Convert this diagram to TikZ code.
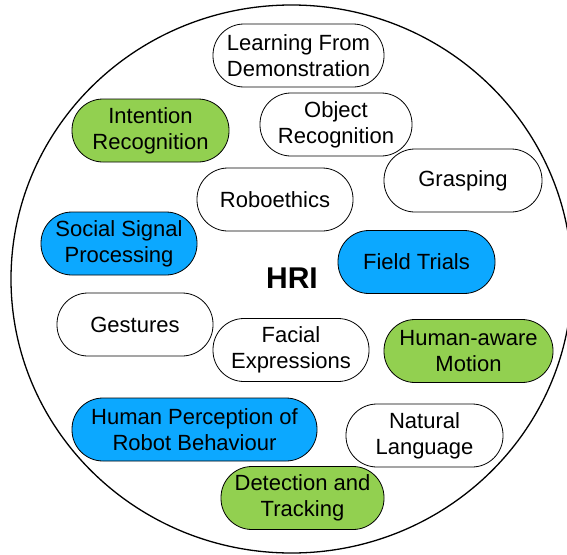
\documentclass[tikz,border=0pt]{standalone}
\usepackage{fontspec}
\setmainfont{Liberation Sans}
\definecolor{tgreen}{RGB}{146,208,80}
\definecolor{tblue}{RGB}{12,168,255}
\begin{document}
\begin{tikzpicture}[x=1pt,y=-1pt,
  topic/.style={draw=black, line width=0.8pt, rounded corners=31pt,
    minimum height=63pt, align=center, inner sep=0pt,
    font=\fontsize{22}{26}\selectfont, fill=white},
  greentopic/.style={topic, fill=tgreen},
  bluetopic/.style={topic, fill=tblue},
  hub/.style={font=\fontsize{30}{36}\selectfont\bfseries, inner sep=0pt}]
\useasboundingbox (0,0) rectangle (567,554);
\clip (0,0) rectangle (567,554);
\draw[line width=1.3pt] (291.5,279) ellipse [x radius=280.5pt, y radius=274pt];
\node[topic, minimum width=171pt] (lfd) at (298.5,55.5) {Learning From\\Demonstration};
\node[greentopic, minimum width=157pt] (intent) at (150.5,130.5) {Intention\\Recognition};
\node[topic, minimum width=152pt] (objrec) at (336,124.5) {Object\\Recognition};
\node[topic, minimum width=158pt] (grasp) at (463,180.5) {Grasping};
\node[topic, minimum width=156pt] (robo) at (275,199.5) {Roboethics};
\node[bluetopic, minimum width=156pt] (ssp) at (119,243.5) {Social Signal\\Processing};
\node[bluetopic, minimum width=157pt] (field) at (416.5,262) {Field Trials};
\node[hub] (hri) at (292,278) {HRI};
\node[topic, minimum width=156pt] (gest) at (135,324.5) {Gestures};
\node[topic, minimum width=156pt] (facial) at (291,350) {Facial\\Expressions};
\node[greentopic, minimum width=169pt] (hamotion) at (468.5,351) {Human-aware\\Motion};
\node[bluetopic, minimum width=245pt] (hprb) at (194.5,429.5) {Human Perception of\\Robot Behaviour};
\node[topic, minimum width=157pt] (natlang) at (424.5,435.5) {Natural\\Language};
\node[greentopic, minimum width=163pt] (dettrack) at (302.5,498) {Detection and\\Tracking};
\end{tikzpicture}
\end{document}
